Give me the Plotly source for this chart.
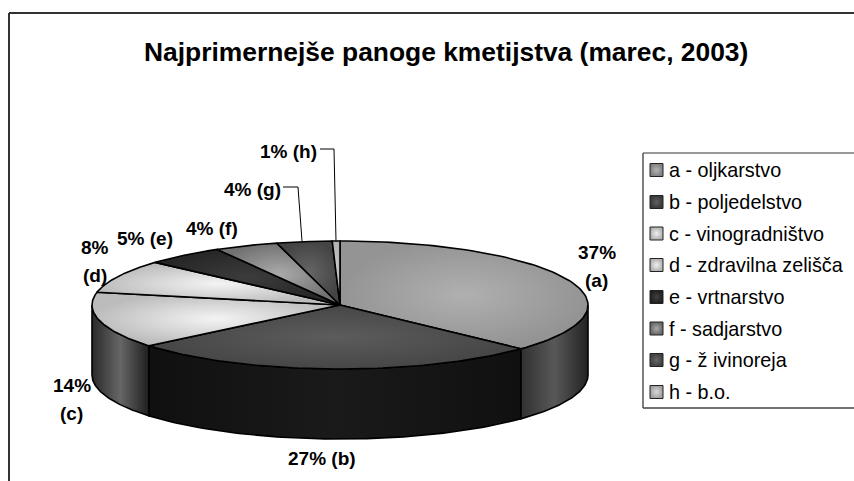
import numpy as np
import plotly.graph_objects as go

# ---- data ----
title = "Najprimernejše panoge kmetijstva (marec, 2003)"
categories = ["a - oljkarstvo", "b - poljedelstvo", "c - vinogradništvo", "d - zdravilna zelišča",
              "e - vrtnarstvo", "f - sadjarstvo", "g - ž ivinoreja", "h - b.o."]
values = [37, 27, 14.2, 8.4, 5.15, 4.15, 3.6, 0.5]
percent_labels = ["37%", "27%", "14%", "8%", "5%", "4%", "4%", "1%"]
letters = ["(a)", "(b)", "(c)", "(d)", "(e)", "(f)", "(g)", "(h)"]

# ---- style ----
FONT = "Liberation Sans"
CX, CY, RX, RY, DEPTH = 340, 305, 248, 64, 70
top_scales = [
    ("#b0b0b0", "#949494"), ("#5c5c5c", "#464646"), ("#f4f4f4", "#bcbcbc"), ("#f4f4f4", "#bcbcbc"),
    ("#3c3c3c", "#262626"), ("#aaaaaa", "#727272"), ("#666666", "#444444"), ("#d0d0d0", "#b0b0b0"),
]
wall_stops = {
    0: ["#303030", "#585858", "#222222"],
    1: ["#101010", "#1a1a1a", "#101010"],
    2: ["#2a2a2a", "#666666", "#1e1e1e"],
}
swatch_fill = [("#808080", "#b4b4b4"), ("#383838", "#606060"), ("#b0b0b0", "#f0f0f0"), ("#b0b0b0", "#f0f0f0"),
               ("#202020", "#404040"), ("#686868", "#a8a8a8"), ("#404040", "#666666"), ("#a0a0a0", "#d8d8d8")]

edges = np.concatenate([[0], np.cumsum(values)]) / np.sum(values) * 2 * np.pi


def px_of(theta, drop=0.0):
    return CX + RX * np.sin(theta), CY - RY * np.cos(theta) + drop


fig = go.Figure()

# side walls (front half of the disc only)
for i in range(3):
    a0 = max(edges[i], np.pi / 2)
    a1 = min(edges[i + 1], 3 * np.pi / 2)
    t = np.linspace(a0, a1, 80)
    x_top, y_top = px_of(t)
    x_bot, y_bot = px_of(t[::-1], DEPTH)
    xs = np.concatenate([x_top, x_bot, x_top[:1]])
    ys = np.concatenate([y_top, y_bot, y_top[:1]])
    stops = wall_stops[i]
    fig.add_trace(go.Scatter(
        x=xs, y=ys, mode="lines", fill="toself", name=categories[i] + " (stranica)",
        line=dict(color="black", width=1.6),
        fillgradient=dict(type="horizontal", start=float(xs.min()), stop=float(xs.max()),
                          colorscale=[[0, stops[0]], [0.5, stops[1]], [1, stops[2]]]),
        hoverinfo="skip", showlegend=False))

# top faces
for i in range(len(values)):
    t = np.linspace(edges[i], edges[i + 1], 80)
    x_arc, y_arc = px_of(t)
    xs = np.concatenate([[CX], x_arc, [CX]])
    ys = np.concatenate([[CY], y_arc, [CY]])
    inner, outer = top_scales[i]
    fig.add_trace(go.Scatter(
        x=xs, y=ys, mode="lines", fill="toself", name=categories[i],
        line=dict(color="black", width=1.6),
        fillgradient=dict(type="radial", colorscale=[[0, inner], [1, outer]]),
        text=f"{categories[i]}: {percent_labels[i]}", hoverinfo="text", showlegend=False))

# legend swatches
legend_y = [170, 202, 233.5, 265, 297, 328.5, 360, 392]
for i, name in enumerate(categories):
    fig.add_trace(go.Scatter(
        x=[656.5], y=[legend_y[i]], mode="markers", name=name, hoverinfo="skip", showlegend=False,
        marker=dict(symbol="square", size=13, color=swatch_fill[i][0],
                    gradient=dict(type="radial", color=swatch_fill[i][1]),
                    line=dict(color="#222222", width=1))))

shapes = [
    dict(type="line", x0=9, y0=481, x1=9, y1=13, line=dict(color="#333333", width=2)),
    dict(type="line", x0=9, y0=13, x1=854, y1=13, line=dict(color="#333333", width=2)),
    dict(type="line", x0=643, y0=153, x1=854, y1=153, line=dict(color="#777777", width=1.5)),
    dict(type="line", x0=643, y0=153, x1=643, y1=408, line=dict(color="#555555", width=1.5)),
    dict(type="line", x0=643, y0=408, x1=854, y1=408, line=dict(color="#444444", width=1.5)),
]
for path in ([(320, 149), (334, 149), (336, 241)], [(283, 187), (298, 187), (302, 241)]):
    for (x0, y0), (x1, y1) in zip(path[:-1], path[1:]):
        shapes.append(dict(type="line", x0=x0, y0=y0, x1=x1, y1=y1, line=dict(color="black", width=1)))


def ann(text, x, y, size, bold=True, anchor="center"):
    return dict(text=f"<b>{text}</b>" if bold else text, x=x, y=y, xref="x", yref="y",
                showarrow=False, xanchor=anchor, yanchor="middle",
                font=dict(family=FONT, size=size, color="black"))


annotations = [
    ann(title, 446, 52, 26.4),
    ann(percent_labels[0], 597, 252, 19), ann(letters[0], 596, 280, 19),
    ann(f"{percent_labels[1]} {letters[1]}", 322, 458, 19),
    ann(percent_labels[2], 72, 385, 19), ann(letters[2], 71, 413, 19),
    ann(percent_labels[3], 95, 247, 19), ann(letters[3], 95, 275, 19),
    ann(f"{percent_labels[4]} {letters[4]}", 145, 238, 19),
    ann(f"{percent_labels[5]} {letters[5]}", 212, 228, 19),
    ann(f"{percent_labels[6]} {letters[6]}", 252, 189, 19),
    ann(f"{percent_labels[7]} {letters[7]}", 288, 151, 19),
]
for i, name in enumerate(categories):
    annotations.append(ann(name, 667, legend_y[i], 19.8, bold=False, anchor="left"))

fig.update_layout(
    width=854, height=481, autosize=False,
    margin=dict(l=0, r=0, t=0, b=0),
    paper_bgcolor="white", plot_bgcolor="white",
    xaxis=dict(range=[0, 854], visible=False, fixedrange=True),
    yaxis=dict(range=[481, 0], visible=False, fixedrange=True),
    shapes=shapes, annotations=annotations, showlegend=False,
)
fig.write_html("out.html", config=dict(displayModeBar=False),
               post_script="document.body.style.margin='0';document.body.style.overflow='hidden';")
